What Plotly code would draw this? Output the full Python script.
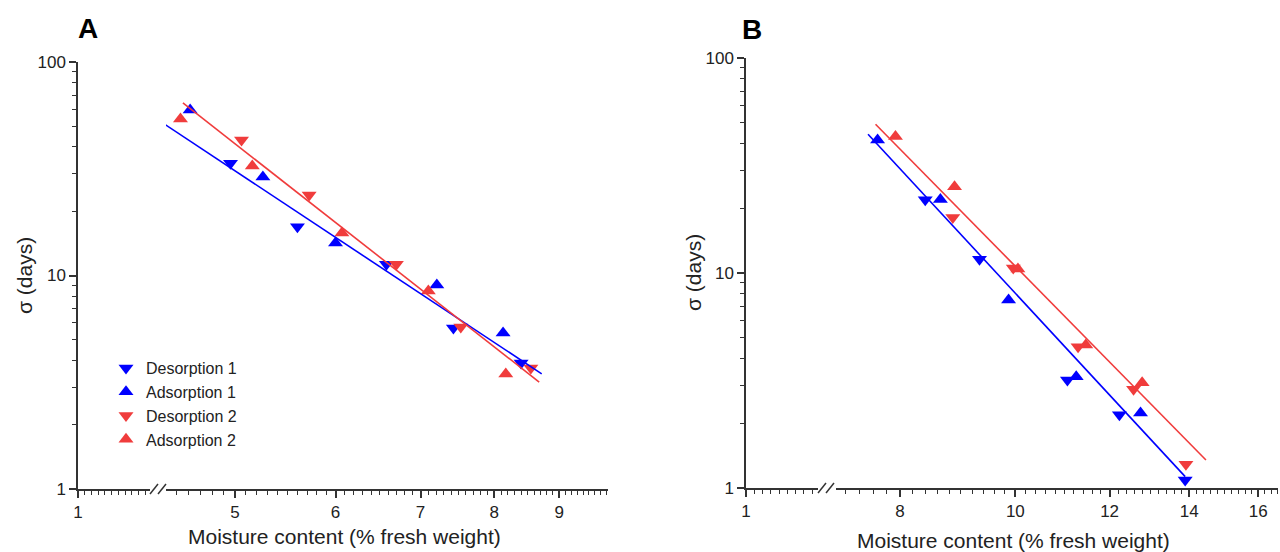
import numpy as np
import plotly.graph_objects as go

W, H = 1280, 552

# ---------------- data ----------------
# Panel A
a_des1_x = [4.96, 5.60, 6.58, 7.43, 8.40]
a_des1_y = [33.6, 16.9, 11.3, 5.68, 3.89]
a_ads1_x = [4.61, 5.26, 6.00, 7.21, 8.13]
a_ads1_y = [59.6, 28.9, 14.2, 9.03, 5.38]
a_des2_x = [5.06, 5.72, 6.70, 7.53, 8.55]
a_des2_y = [43.1, 23.8, 11.3, 5.74, 3.69]
a_ads2_x = [4.53, 5.16, 6.07, 7.10, 8.17]
a_ads2_y = [54.1, 32.6, 15.8, 8.46, 3.46]
a_fit1_x = [4.40, 8.72]
a_fit1_y = [51.2, 3.46]
a_fit2_x = [4.55, 8.68]
a_fit2_y = [64.3, 3.17]

# Panel B
b_des1_x = [8.40, 9.33, 11.06, 12.23, 13.89]
b_des1_y = [21.9, 11.6, 3.18, 2.19, 1.09]
b_ads1_x = [7.66, 8.65, 9.87, 11.25, 12.74]
b_ads1_y = [41.6, 22.0, 7.49, 3.29, 2.23]
b_des2_x = [8.86, 9.96, 11.29, 12.57, 13.91]
b_des2_y = [18.1, 10.55, 4.54, 2.88, 1.29]
b_ads2_x = [7.93, 8.89, 10.05, 11.46, 12.78]
b_ads2_y = [43.1, 25.2, 10.45, 4.63, 3.09]
b_fit1_x = [7.52, 13.89]
b_fit1_y = [44.2, 1.13]
b_fit2_x = [7.63, 14.46]
b_fit2_y = [49.2, 1.35]

series_names = ["Desorption 1", "Adsorption 1", "Desorption 2", "Adsorption 2"]
a_ticks = [5, 6, 7, 8, 9]
b_ticks = [8, 10, 12, 14, 16]
y_ticks = [1, 10, 100]

# ---------------- styling ----------------
BLUE = "#0000FF"
RED = "#F03C3C"
AX = "#333333"
FONT = "Liberation Sans, Arial, sans-serif"
MS = 13


def px(x):
    return x / W


def py(y):
    return 1 - y / H


fig = go.Figure()


def add_panel(xa, ya, d1, a1, d2, a2, f1, f2, legend):
    specs = [
        (d1, BLUE, "triangle-down", series_names[0]),
        (a1, BLUE, "triangle-up", series_names[1]),
        (d2, RED, "triangle-down", series_names[2]),
        (a2, RED, "triangle-up", series_names[3]),
    ]
    for (xs, ys), col, sym, name in specs:
        fig.add_trace(go.Scatter(
            x=xs, y=ys, mode="markers", name=name, xaxis=xa, yaxis=ya,
            marker=dict(symbol=sym, size=MS, color=col, line=dict(width=0)),
            showlegend=legend))
    for (xs, ys), col in [(f1, BLUE), (f2, RED)]:
        fig.add_trace(go.Scatter(
            x=xs, y=ys, mode="lines", xaxis=xa, yaxis=ya,
            line=dict(color=col, width=1.6), showlegend=False, hoverinfo="skip"))


add_panel("x2", "y",
          (a_des1_x, a_des1_y), (a_ads1_x, a_ads1_y),
          (a_des2_x, a_des2_y), (a_ads2_x, a_ads2_y),
          (a_fit1_x, a_fit1_y), (a_fit2_x, a_fit2_y), True)
add_panel("x4", "y2",
          (b_des1_x, b_des1_y), (b_ads1_x, b_ads1_y),
          (b_des2_x, b_des2_y), (b_ads2_x, b_ads2_y),
          (b_fit1_x, b_fit1_y), (b_fit2_x, b_fit2_y), False)

# empty traces so the short (pre-break) axis segments get their subplots
fig.add_trace(go.Scatter(x=[None], y=[None], xaxis="x", yaxis="y", showlegend=False, hoverinfo="skip"))
fig.add_trace(go.Scatter(x=[None], y=[None], xaxis="x3", yaxis="y2", showlegend=False, hoverinfo="skip"))

common = dict(showline=True, linecolor=AX, linewidth=1.5, ticks="outside", ticklen=7,
              tickwidth=1.5, tickcolor=AX, showgrid=False, zeroline=False, automargin=False,
              tickfont=dict(family=FONT, size=17, color="#222"), fixedrange=True)

minor_a = [round(v, 2) for v in np.arange(4.5, 9.85, 0.1) if abs(v - round(v)) > 1e-6]
minor_b = [round(v, 2) for v in np.arange(7.2, 16.65, 0.2) if abs(v - round(v / 2) * 2) > 1e-6]
minor_y = [m * d for d in (1, 10) for m in range(2, 10)]

seg_minor = dict(ticks="outside", ticklen=4, tickwidth=1.2, tickcolor=AX, dtick=0.1, tick0=1, showgrid=False)
minor_style = dict(ticks="outside", ticklen=4, tickwidth=1.2, tickcolor=AX, tickmode="array", showgrid=False)

fig.update_layout(
    template="none",
    width=W, height=H,
    margin=dict(l=0, r=0, t=0, b=0, pad=0),
    paper_bgcolor="white", plot_bgcolor="white",
    font=dict(family=FONT, color="#222"),
    xaxis=dict(common, domain=[px(78), px(150)], range=[1, 2.07], anchor="y",
               tickmode="array", tickvals=[1], ticktext=["1"], minor=seg_minor),
    xaxis2=dict(common, domain=[px(166), px(608)], type="log", range=[0.6447, 0.9927],
                anchor="y", tickmode="array", tickvals=a_ticks, ticktext=[str(t) for t in a_ticks],
                minor=dict(minor_style, tickvals=minor_a)),
    yaxis=dict(common, domain=[py(489), py(62)], type="log", range=[0, 2], anchor="x",
               tickmode="array", tickvals=y_ticks, ticktext=[str(t) for t in y_ticks],
               minor=dict(minor_style, tickvals=minor_y)),
    xaxis3=dict(common, domain=[px(746), px(818)], range=[1, 1.87], anchor="y2",
                tickmode="array", tickvals=[1], ticktext=["1"], minor=seg_minor),
    xaxis4=dict(common, domain=[px(836), px(1278)], type="log", range=[0.8493, 1.2207],
                anchor="y2", tickmode="array", tickvals=b_ticks, ticktext=[str(t) for t in b_ticks],
                minor=dict(minor_style, tickvals=minor_b)),
    yaxis2=dict(common, domain=[py(488), py(58)], type="log", range=[0, 2], anchor="x3",
                tickmode="array", tickvals=y_ticks, ticktext=[str(t) for t in y_ticks],
                minor=dict(minor_style, tickvals=minor_y)),
    legend=dict(x=px(106), y=py(351), xanchor="left", yanchor="top",
                bgcolor="rgba(0,0,0,0)", borderwidth=0,
                font=dict(family=FONT, size=16, color="#222"),
                tracegroupgap=0, itemsizing="trace"),
    showlegend=True,
    hovermode="closest",
)

# axis-break marks
shapes = []
for x0 in (150, 158, 818, 826):
    shapes.append(dict(type="line", xref="paper", yref="paper",
                       x0=px(x0), y0=py(494 if x0 < 700 else 493),
                       x1=px(x0 + 8), y1=py(484 if x0 < 700 else 483),
                       line=dict(color=AX, width=1.5)))
fig.update_layout(shapes=shapes)


def note(text, x, y, size, angle=0, color="#222"):
    return dict(text=text, x=px(x), y=py(y), xref="paper", yref="paper",
                xanchor="center", yanchor="middle", textangle=angle,
                showarrow=False, font=dict(family=FONT, size=size, color=color))


xt = "Moisture content (% fresh weight)"
ann = [
    note("<b>A</b>", 88, 28, 28, color="black"),
    note("<b>B</b>", 752, 29, 28, color="black"),
    note(xt, 344, 536, 21),
    note(xt, 1013, 540, 21),
    note("σ (days)", 24, 276, 21, angle=-90),
    note("σ (days)", 693, 273, 21, angle=-90),
]
fig.update_layout(annotations=ann)

fig.write_html(
    "out.html",
    config={"displayModeBar": False},
    post_script="document.body.style.margin='0';document.body.style.overflow='hidden';",
)
